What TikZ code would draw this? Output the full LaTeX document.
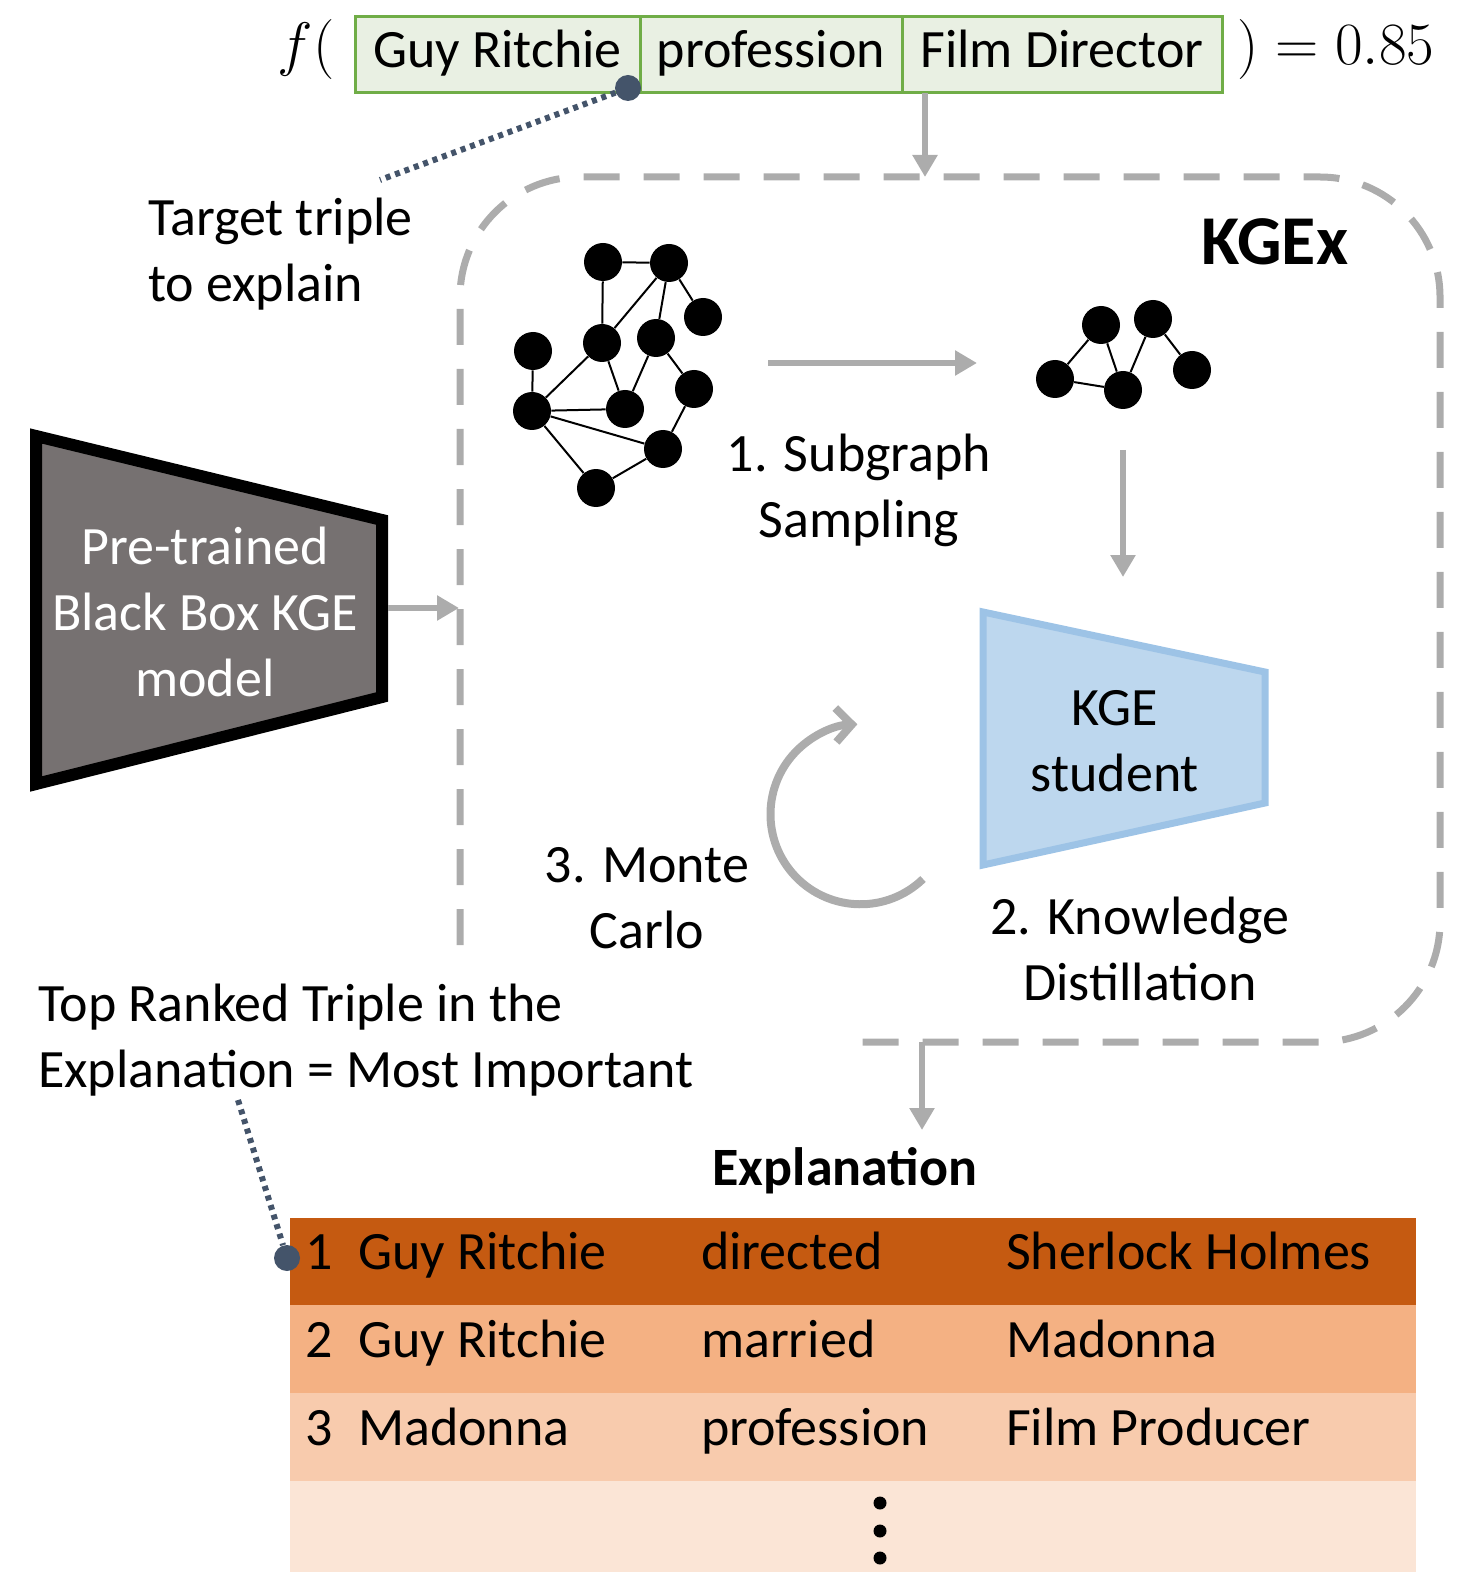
\RequirePackage{fix-cm}
\documentclass[tikz,border=0pt]{standalone}
\usepackage{fontspec}
\setmainfont{Carlito}
\usepackage{tikz}
\usetikzlibrary{arrows.meta,positioning,calc}
\definecolor{tgreen}{RGB}{112,173,71}
\definecolor{tfill}{RGB}{233,240,227}
\definecolor{dotcol}{RGB}{68,84,106}
\definecolor{arrgray}{RGB}{172,172,172}
\definecolor{kgefill}{RGB}{189,215,238}
\definecolor{kgeline}{RGB}{157,195,230}
\definecolor{bbfill}{RGB}{118,113,113}
\definecolor{rowa}{RGB}{197,90,17}
\definecolor{rowb}{RGB}{244,177,131}
\definecolor{rowc}{RGB}{248,203,173}
\definecolor{rowd}{RGB}{251,229,214}
\tikzset{
  cell/.style={draw=tgreen, fill=tfill, line width=1.5pt, outer sep=0pt, inner sep=0pt, minimum height=38pt, text height=19pt, text depth=6pt},
  gnode/.style={circle, fill=black, minimum size=19pt, inner sep=0pt},
  gedge/.style={line width=1pt},
  garrow/.style={-{Triangle[length=11pt,width=12pt]}, line width=3pt, color=arrgray},
  frame/.style={line width=3.5pt, color=arrgray, dash pattern=on 18pt off 12pt},
  dotline/.style={line width=3pt, color=dotcol, dash pattern=on 2.5pt off 2.5pt},
  tdot/.style={circle, fill=dotcol, minimum size=13pt, inner sep=0pt},
  lab/.style={align=center},
  row/.style={minimum width=563pt, inner sep=0pt, outer sep=0pt},
  vdot/.style={circle, fill=black, minimum size=6.5pt, inner sep=0pt},
}

\begin{document}
\begin{tikzpicture}[x=0.5pt, y=-0.5pt, font=\fontsize{27}{33}\selectfont]
  \useasboundingbox (0,0) rectangle (1457,1572);

  % target triple
  \node[font=\fontsize{30}{36}\selectfont] (fl) at (306,50) {$f($};
  \node[cell, minimum width=142.5pt, anchor=west] (t1) at (355,55) {Guy Ritchie};
  \node[cell, minimum width=131pt, right=0pt of t1] (t2) {profession};
  \node[cell, minimum width=160pt, right=0pt of t2] (t3) {Film Director};
  \node[font=\fontsize{30}{36}\selectfont] (fr) at (1336,50) {$)=0.85$};
  \node[tdot] (tdot) at (628,88) {};
  \coordinate (tgt) at (380,180);
  \draw[dotline] (tdot) -- (tgt);
  \node[anchor=west, align=left] (tlab) at (141,254) {Target triple\\to explain};

  % KGEx frame
  \draw[frame] (460,945) -- (460,297) arc[start angle=180, end angle=270, radius=120]
    -- (1320,177) arc[start angle=270, end angle=360, radius=120]
    -- (1440,922) arc[start angle=0, end angle=90, radius=120] -- (840,1042);
  \node[font=\fontsize{35}{40}\selectfont\bfseries] (kgex) at (1275,242) {KGEx};
  \coordinate (tout) at ($(t3.south west)+(23,0)$);
  \coordinate (kin) at (925,177);
  \draw[garrow] (tout) -- (kin);

  % knowledge graph
  \node[gnode] (g1) at (603,262) {};
  \node[gnode] (g2) at (669,263) {};
  \node[gnode] (g3) at (703,317) {};
  \node[gnode] (g4) at (602,343) {};
  \node[gnode] (g5) at (656,338) {};
  \node[gnode] (g6) at (533,351) {};
  \node[gnode] (g7) at (694,389) {};
  \node[gnode] (g8) at (532,411) {};
  \node[gnode] (g9) at (625,409) {};
  \node[gnode] (g10) at (663,449) {};
  \node[gnode] (g11) at (596,488) {};
  \draw[gedge] (g1) -- (g2) (g1) -- (g4) (g2) -- (g4) (g2) -- (g5) (g2) -- (g3)
    (g5) -- (g9) (g5) -- (g7) (g4) -- (g8) (g4) -- (g9) (g6) -- (g8)
    (g8) -- (g9) (g8) -- (g10) (g8) -- (g11) (g11) -- (g10) (g10) -- (g7);

  % sampled subgraph
  \node[gnode] (s1) at (1101,325) {};
  \node[gnode] (s2) at (1153,319) {};
  \node[gnode] (s3) at (1055,379) {};
  \node[gnode] (s4) at (1123,390) {};
  \node[gnode] (s5) at (1192,370) {};
  \draw[gedge] (s1) -- (s3) (s1) -- (s4) (s3) -- (s4) (s4) -- (s2) (s2) -- (s5);

  \coordinate (sa) at (768,363);
  \coordinate (sb) at (977,363);
  \draw[garrow] (sa) -- (sb);
  \node[lab] (samp) at (859,490) {1. Subgraph\\Sampling};
  \coordinate (da) at (1123,450);
  \coordinate (db) at (1123,577);
  \draw[garrow] (da) -- (db);

  % KGE student
  \draw[draw=kgeline, fill=kgefill, line width=3.5pt] (983,612) -- (1265,672) -- (1265,803) -- (983,865) -- cycle;
  \node[lab] (stu) at (1115,741) {KGE\\student};
  \node[lab] (kd) at (1140,949) {2. Knowledge\\Distillation};

  % monte carlo loop
  \draw[line width=4pt, arrgray, -{Straight Barb[length=8pt,width=17pt]}] (923,879) arc[start angle=46, end angle=268, radius=90];
  \node[lab] (mc) at (647,898) {3. Monte\\Carlo};

  % black box model
  \draw[line width=6pt, fill=bbfill] (36,436) -- (382,520) -- (382,697) -- (36,784) -- cycle;
  \node[lab, text=white] (bb) at (205,612) {Pre-trained\\Black Box KGE\\model};
  \coordinate (bbr) at (388,608);
  \coordinate (fin) at (459,608);
  \draw[garrow] (bbr) -- (fin);

  % explanation
  \node[anchor=west, align=left] (toplab) at (31,1040) {Top Ranked Triple in the\\Explanation = Most Important};
  \coordinate (fout) at (922,1042);
  \coordinate (ein) at (922,1130);
  \draw[garrow] (fout) -- (ein);
  \node[font=\fontsize{27}{33}\selectfont\bfseries] (expl) at (845,1171) {Explanation};

  \node[row, fill=rowa, minimum height=43.5pt] (r1) at (853,1261.5) {};
  \node[row, fill=rowb, minimum height=44pt] (r2) at (853,1349) {};
  \node[row, fill=rowc, minimum height=44pt] (r3) at (853,1437) {};
  \node[row, fill=rowd, minimum height=46pt] (r4) at (853,1527) {};

  \node[anchor=base west] (n1) at (298,1269) {1};
  \node[anchor=base west] (h1) at (351,1269) {Guy Ritchie};
  \node[anchor=base west] (p1) at (694,1269) {directed};
  \node[anchor=base west] (o1) at (999,1269) {Sherlock Holmes};
  \node[anchor=base west] (n2) at (298,1357) {2};
  \node[anchor=base west] (h2) at (351,1357) {Guy Ritchie};
  \node[anchor=base west] (p2) at (694,1357) {married};
  \node[anchor=base west] (o2) at (999,1357) {Madonna};
  \node[anchor=base west] (n3) at (298,1445) {3};
  \node[anchor=base west] (h3) at (351,1445) {Madonna};
  \node[anchor=base west] (p3) at (694,1445) {profession};
  \node[anchor=base west] (o3) at (999,1445) {Film Producer};
  \node[vdot] (v1) at (880,1503) {};
  \node[vdot] (v2) at (880,1531) {};
  \node[vdot] (v3) at (880,1558) {};

  \coordinate (tr) at (238,1100);
  \node[tdot] (rdot) at (287,1258) {};
  \draw[dotline] (tr) -- (rdot);
\end{tikzpicture}
\end{document}
